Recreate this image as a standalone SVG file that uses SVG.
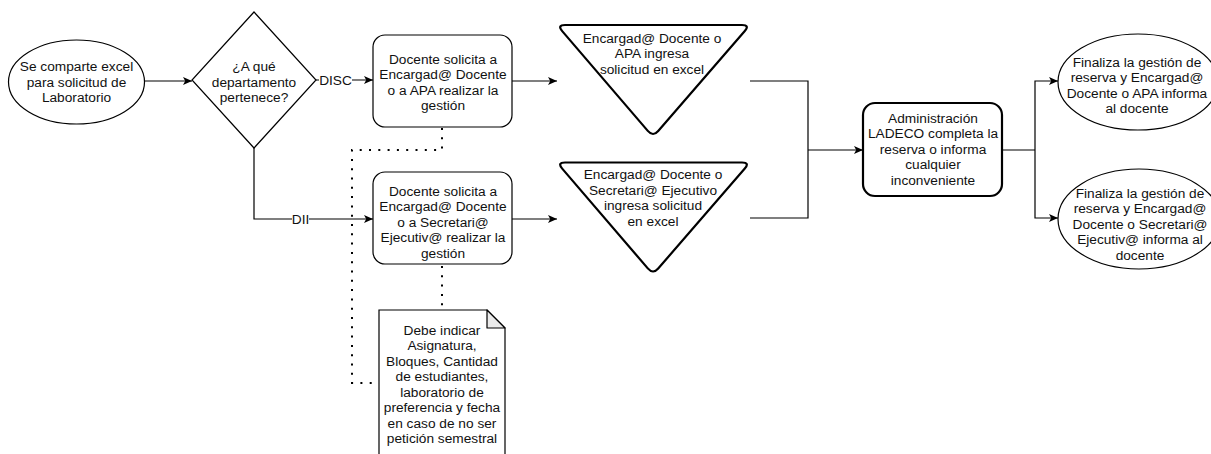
<svg xmlns="http://www.w3.org/2000/svg" width="1211" height="454" viewBox="0 0 1211 454">
  <defs>
    <marker id="arrow" viewBox="0 0 9 8" refX="9" refY="4" markerWidth="9" markerHeight="8" markerUnits="userSpaceOnUse" orient="auto">
      <path d="M0,0 L9,4 L0,8 L2.2,4 Z" fill="#000"/>
    </marker>
    <style>
      text { font-family: "Liberation Sans", Arial, Helvetica, sans-serif; font-size: 13.7px; fill: #111; text-anchor: middle; }
      .shape { fill: #fff; stroke: #000; stroke-width: 1.2; }
      .bold { fill: #fff; stroke: #000; stroke-width: 2.2; stroke-linejoin: round; }
      .edge { fill: none; stroke: #000; stroke-width: 1.2; }
      .arrow { marker-end: url(#arrow); }
      .dotted { fill: none; stroke: #000; stroke-width: 2; stroke-dasharray: 2 7.3; }
      .lblbg { fill: #fff; stroke: none; }
    </style>
  </defs>
  <rect width="1211" height="454" fill="#fff"/>

  <g id="connectors">
    <path class="edge arrow" d="M145,81 L192,81"/>
    <path class="edge arrow" d="M316,80 L373,80"/>
    <path class="edge arrow" d="M254,147 L254,219 L373,219"/>
    <path class="edge arrow" d="M512,81 L557,81"/>
    <path class="edge arrow" d="M512,219 L557,219"/>
    <path class="edge" d="M750,81 L808,81 L808,218 L750,218"/>
    <path class="edge arrow" d="M808,150 L863,150"/>
    <path class="edge" d="M1002,150 L1035,150"/>
    <path class="edge arrow" d="M1035,150 L1035,81 L1058,81"/>
    <path class="edge arrow" d="M1035,150 L1035,218 L1058,218"/>
    <path class="dotted" d="M442,128 L442,150 L352,150 L352,383 L379,383"/>
    <path class="dotted" d="M442,266 L442,310"/>
    <rect class="lblbg" x="319" y="72" width="33" height="16"/>
    <text x="335.5" y="84.9">DISC</text>
    <rect class="lblbg" x="292" y="211" width="17" height="16"/>
    <text x="300.5" y="223.9">DII</text>
  </g>

  <g id="start">
    <ellipse class="shape" cx="76.5" cy="82" rx="68" ry="42"/>
    <text x="76.5" y="71.4">Se comparte excel</text>
    <text x="76.5" y="86.9">para solicitud de</text>
    <text x="76.5" y="102.4">Laboratorio</text>
  </g>

  <g id="decision">
    <path class="shape" d="M254,12 L316,80 L254,148 L192,80 Z"/>
    <text x="254" y="71.4">¿A qué</text>
    <text x="254" y="86.9">departamento</text>
    <text x="254" y="102.4">pertenece?</text>
  </g>

  <g id="disc-request">
    <rect class="shape" x="373" y="35" width="139" height="92" rx="12" ry="12"/>
    <text x="443" y="63.6">Docente solicita a</text>
    <text x="443" y="79.1">Encargad@ Docente</text>
    <text x="443" y="94.6">o a APA realizar la</text>
    <text x="443" y="110.1">gestión</text>
  </g>

  <g id="dii-request">
    <rect class="shape" x="373" y="172" width="139" height="92" rx="12" ry="12"/>
    <text x="443" y="195.7">Docente solicita a</text>
    <text x="443" y="211.2">Encargad@ Docente</text>
    <text x="443" y="226.7">o a Secretari@</text>
    <text x="443" y="242.2">Ejecutiv@ realizar la</text>
    <text x="443" y="257.7">gestión</text>
  </g>

  <g id="disc-entry">
    <path class="bold" d="M565,25 L742,25 Q750,25 744.8,31 L658.2,131 Q653,137 647.8,130.9 L562.2,31.1 Q557,25 565,25 Z"/>
    <text x="652" y="42.9">Encargad@ Docente o</text>
    <text x="652" y="58.4">APA ingresa</text>
    <text x="652" y="73.9">solicitud en excel</text>
  </g>

  <g id="dii-entry">
    <path class="bold" transform="translate(0,137.5)" d="M565,25 L742,25 Q750,25 744.8,31 L658.2,131 Q653,137 647.8,130.9 L562.2,31.1 Q557,25 565,25 Z"/>
    <text x="653" y="179.4">Encargad@ Docente o</text>
    <text x="653" y="194.9">Secretari@ Ejecutivo</text>
    <text x="653" y="210.4">ingresa solicitud</text>
    <text x="653" y="225.9">en excel</text>
  </g>

  <g id="admin">
    <rect class="bold" x="863" y="103" width="139" height="93" rx="12" ry="12"/>
    <text x="933" y="122.9">Administración</text>
    <text x="933" y="138.4">LADECO completa la</text>
    <text x="933" y="153.9">reserva o informa</text>
    <text x="933" y="169.4">cualquier</text>
    <text x="933" y="184.9">inconveniente</text>
  </g>

  <g id="end-apa">
    <ellipse class="shape" cx="1138" cy="82" rx="80" ry="48"/>
    <text x="1137" y="66.9">Finaliza la gestión de</text>
    <text x="1137" y="82.4">reserva y Encargad@</text>
    <text x="1137" y="97.9">Docente o APA informa</text>
    <text x="1137" y="113.4">al docente</text>
  </g>

  <g id="end-secretaria">
    <ellipse class="shape" cx="1139" cy="219" rx="81" ry="50"/>
    <text x="1140" y="197.9">Finaliza la gestión de</text>
    <text x="1140" y="213.4">reserva y Encargad@</text>
    <text x="1140" y="228.9">Docente o Secretari@</text>
    <text x="1140" y="244.4">Ejecutiv@ informa al</text>
    <text x="1140" y="259.9">docente</text>
  </g>

  <g id="note">
    <path class="shape" d="M379,310 L487,310 L505,328 L505,460 L379,460 Z"/>
    <path d="M487,310 L487,328 L505,328 Z" fill="#ebebeb" stroke="#000" stroke-width="1.2" stroke-linejoin="round"/>
    <text x="442" y="334.9">Debe indicar</text>
    <text x="442" y="350.4">Asignatura,</text>
    <text x="442" y="365.9">Bloques, Cantidad</text>
    <text x="442" y="381.4">de estudiantes,</text>
    <text x="442" y="396.9">laboratorio de</text>
    <text x="442" y="412.4">preferencia y fecha</text>
    <text x="442" y="427.9">en caso de no ser</text>
    <text x="442" y="443.4">petición semestral</text>
  </g>
</svg>
